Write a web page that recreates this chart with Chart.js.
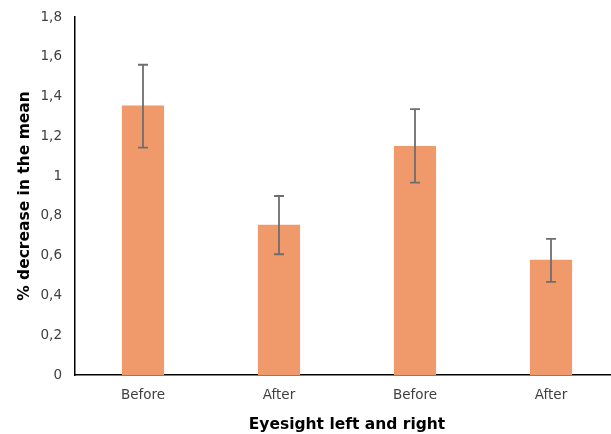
<!DOCTYPE html>
<html>
<head>
<meta charset="utf-8">
<script src="https://cdn.jsdelivr.net/npm/chart.js@4"></script>
<style>
  html, body { margin: 0; padding: 0; background: #fff; overflow: hidden; }
  #wrap { width: 619px; height: 434px; }
</style>
</head>
<body>
<div id="wrap"><canvas id="eyeChart"></canvas></div>
<script>
const categories = ["Before", "After", "Before", "After"];
const meanDecrease = [1.355, 0.755, 1.152, 0.58];
const errorHigh = [1.56, 0.90, 1.337, 0.684];
const errorLow = [1.143, 0.607, 0.967, 0.468];
const yTicks = [0, 0.2, 0.4, 0.6, 0.8, 1, 1.2, 1.4, 1.6, 1.8];

const ctx = document.getElementById("eyeChart");

// whiskers drawn after bars, positions from the chart's own scales
const errorBars = {
  id: "errorBars",
  afterDatasetsDraw(chart) {
    const meta = chart.getDatasetMeta(0);
    const y = chart.scales.y;
    const c = chart.ctx;
    c.save();
    c.strokeStyle = "#6e6e6e";
    c.lineWidth = 1.8;
    meta.data.forEach((bar, i) => {
      const top = y.getPixelForValue(errorHigh[i]);
      const bottom = y.getPixelForValue(errorLow[i]);
      c.beginPath();
      c.moveTo(bar.x, top);
      c.lineTo(bar.x, bottom);
      c.moveTo(bar.x - 5, top);
      c.lineTo(bar.x + 5, top);
      c.moveTo(bar.x - 5, bottom);
      c.lineTo(bar.x + 5, bottom);
      c.stroke();
    });
    c.restore();
  },
};

const eyeChart = new Chart(ctx, {
  type: "bar",
  data: {
    labels: categories,
    datasets: [
      {
        label: "% decrease",
        data: meanDecrease,
        backgroundColor: "#f09a6b",
        barPercentage: 0.31,
        categoryPercentage: 1,
      },
    ],
  },
  options: {
    responsive: true,
    maintainAspectRatio: false,
    animation: false,
    layout: { padding: { top: 17, right: 0, bottom: 0, left: 0 } },
    plugins: {
      legend: { display: false },
      tooltip: { enabled: false },
    },
    scales: {
      x: {
        grid: { display: false, drawTicks: false },
        border: { color: "#000", width: 1.5 },
        ticks: {
          color: "#404040",
          font: { family: "DejaVu Sans", size: 13.5 },
          padding: 12,
        },
        title: {
          display: true,
          text: "Eyesight left and right",
          color: "#000",
          font: { family: "DejaVu Sans", size: 15.5, weight: "bold" },
          padding: { top: 4, bottom: 0 },
        },
        afterFit: (scale) => {
          scale.height = 59;
          scale.paddingLeft = 0;
          scale.paddingRight = 0;
        },
      },
      y: {
        min: 0,
        max: 1.8,
        grid: { display: false, drawTicks: false },
        border: { color: "#000", width: 1.5 },
        afterBuildTicks: (scale) => {
          scale.ticks = yTicks.map((v) => ({ value: v }));
        },
        ticks: {
          color: "#404040",
          font: { family: "DejaVu Sans", size: 13.5 },
          padding: 13,
          callback: (value) => String(Number(value.toFixed(1))).replace(".", ","),
        },
        title: {
          display: true,
          text: "% decrease in the mean",
          color: "#000",
          font: { family: "DejaVu Sans", size: 15.5, weight: "bold" },
          padding: { top: 16, bottom: 0 },
        },
        afterFit: (scale) => {
          scale.width = 75;
          scale.paddingTop = 0;
          scale.paddingBottom = 0;
        },
      },
    },
  },
  plugins: [errorBars],
});
</script>
</body>
</html>
